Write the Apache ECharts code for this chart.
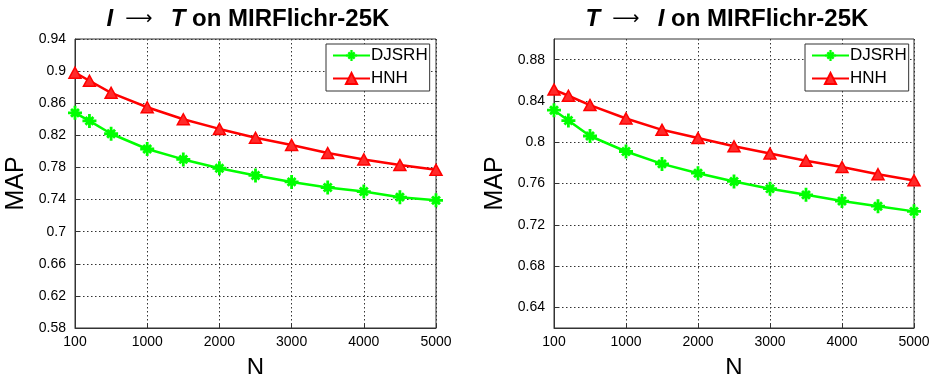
<!DOCTYPE html>
<html>
<head>
<meta charset="utf-8">
<script src="https://cdn.jsdelivr.net/npm/echarts@6/dist/echarts.min.js"></script>
<style>html,body{margin:0;padding:0;background:#fff}#c{width:934px;height:374px}</style>
</head>
<body>
<div id="c"></div>
<script>
// N positions along the axis (first point sits at the axis start, labelled "100")
const nPos = [0, 200, 500, 1000, 1500, 2000, 2500, 3000, 3500, 4000, 4500, 5000];
const xTickLabels = ['100', '1000', '2000', '3000', '4000', '5000'];

// I -> T
const itDJSRH = [0.848, 0.838, 0.822, 0.803, 0.790, 0.779, 0.770, 0.762, 0.755, 0.750, 0.743, 0.739];
const itHNH   = [0.898, 0.888, 0.873, 0.855, 0.840, 0.828, 0.817, 0.808, 0.798, 0.790, 0.783, 0.777];
// T -> I
const tiDJSRH = [0.831, 0.821, 0.806, 0.791, 0.779, 0.770, 0.762, 0.755, 0.749, 0.743, 0.738, 0.733];
const tiHNH   = [0.851, 0.845, 0.836, 0.823, 0.812, 0.804, 0.796, 0.789, 0.782, 0.776, 0.769, 0.763];

const rightYTicks = [0.64, 0.68, 0.72, 0.76, 0.80, 0.84, 0.88];

const FONT = '"Liberation Sans", Arial, Helvetica, sans-serif';
const asterisk = 'path://M-1,-0.2L1,-0.2L1,0.2L-1,0.2Z' +
  'M-0.2,-1L0.2,-1L0.2,1L-0.2,1Z' +
  'M-0.707,-0.424L-0.424,-0.707L0.707,0.424L0.424,0.707Z' +
  'M-0.424,0.707L-0.707,0.424L0.424,-0.707L0.707,-0.424Z';

function pairs(ys) { return nPos.map((x, i) => [x, ys[i]]); }

function xAxis(gi) {
  return {
    type: 'value', gridIndex: gi, min: 0, max: 5000, interval: 1000,
    name: 'N', nameLocation: 'middle', nameGap: 28,
    nameTextStyle: { fontSize: 24, fontFamily: FONT, color: '#000' },
    axisLine: { show: true, lineStyle: { color: '#333', width: 1 } },
    axisTick: { show: true, inside: true, length: 4, lineStyle: { color: '#333' } },
    axisLabel: { fontSize: 14, fontFamily: FONT, color: '#000', margin: 7,
      formatter: v => xTickLabels[Math.round(v / 1000)] },
    splitLine: { show: true, lineStyle: { type: [1.5, 2.5], color: '#333', width: 1 } }
  };
}
function yAxisBase(gi) {
  return {
    type: 'value', gridIndex: gi,
    name: 'MAP', nameLocation: 'middle', nameGap: 46,
    nameTextStyle: { fontSize: 25, fontFamily: FONT, color: '#000' },
    axisLine: { show: true, lineStyle: { color: '#333', width: 1 } },
    axisTick: { show: true, inside: true, length: 4, lineStyle: { color: '#333' } },
    axisLabel: { fontSize: 14, fontFamily: FONT, color: '#000', margin: 9 },
    splitLine: { show: true, lineStyle: { type: [1.5, 2.5], color: '#333', width: 1 } }
  };
}
const y0 = Object.assign(yAxisBase(0), { min: 0.58, max: 0.94, interval: 0.04 });
const y1 = yAxisBase(1);
y1.min = 0.62; y1.max = 0.90;
y1.axisTick.customValues = rightYTicks;
y1.axisLabel.customValues = rightYTicks;

function djsrh(data, gi) {
  return { name: 'DJSRH', type: 'line', xAxisIndex: gi, yAxisIndex: gi, data: data,
    symbol: asterisk, symbolSize: 14, lineStyle: { color: '#00ff00', width: 2.5 },
    itemStyle: { color: '#00ff00' }, z: 2 };
}
function hnh(data, gi) {
  return { name: 'HNH', type: 'line', xAxisIndex: gi, yAxisIndex: gi, data: data,
    symbol: 'triangle', symbolSize: [12, 11], lineStyle: { color: '#ff0000', width: 2.5 },
    itemStyle: { color: '#ff2a2a', borderColor: '#ff0000', borderWidth: 1.5 }, z: 3 };
}
function legend(left) {
  return { left: left, top: 44, orient: 'vertical', itemGap: 6, itemWidth: 37, itemHeight: 14,
    padding: [3, 2, 4, 6], borderColor: '#333', borderWidth: 1, backgroundColor: '#fff',
    textStyle: { fontSize: 17, fontFamily: FONT, color: '#000', padding: [0, 0, 0, -4] },
    data: ['DJSRH', 'HNH'], selectedMode: false };
}
function title(a, b, left) {
  return { left: left, top: 2, textAlign: 'center',
    text: '{it|' + a + '}{ar|  ⟶   }{it|' + b + '}{b| on MIRFlichr-25K}',
    textStyle: { rich: {
      it: { fontSize: 24, fontWeight: 'bold', fontStyle: 'italic', fontFamily: FONT, color: '#000' },
      ar: { fontSize: 19, fontWeight: 'normal', fontFamily: '"DejaVu Sans", sans-serif', color: '#000' },
      b: { fontSize: 24, fontWeight: 'bold', fontFamily: FONT, color: '#000' }
    } } };
}

const chart = echarts.init(document.getElementById('c'), null, { renderer: 'canvas' });
chart.setOption({
  animation: false,
  backgroundColor: '#fff',
  title: [title('I', 'T', 243), title('T', 'I', 722)],
  legend: [legend(326), legend(805)],
  grid: [
    { left: 75, right: 498, top: 39, bottom: 46, show: true, borderColor: '#333', borderWidth: 1,
      containLabel: false, outerBoundsMode: 'none' },
    { left: 554, right: 20, top: 39, bottom: 46, show: true, borderColor: '#333', borderWidth: 1,
      containLabel: false, outerBoundsMode: 'none' }
  ],
  xAxis: [xAxis(0), xAxis(1)],
  yAxis: [y0, y1],
  series: [djsrh(pairs(itDJSRH), 0), hnh(pairs(itHNH), 0), djsrh(pairs(tiDJSRH), 1), hnh(pairs(tiHNH), 1)]
});
</script>
</body>
</html>
